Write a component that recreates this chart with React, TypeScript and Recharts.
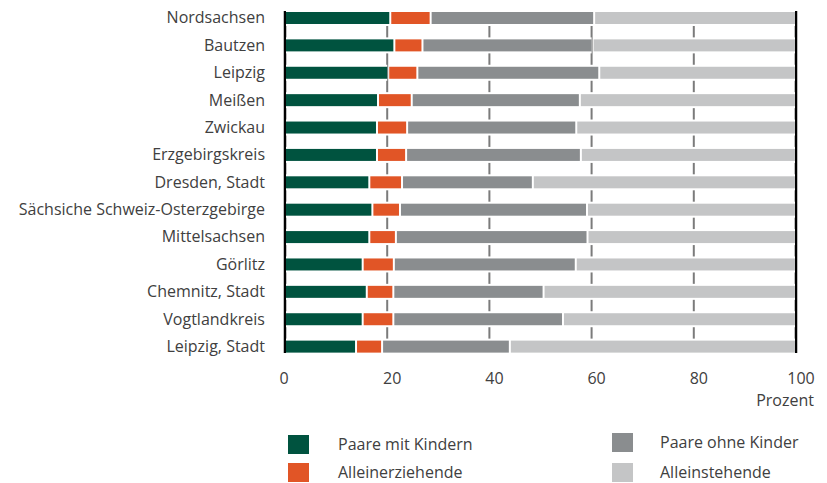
import { BarChart, Bar, XAxis, YAxis, CartesianGrid } from 'recharts';

const REGIONS = [
  'Nordsachsen',
  'Bautzen',
  'Leipzig',
  'Meißen',
  'Zwickau',
  'Erzgebirgskreis',
  'Dresden, Stadt',
  'Sächsiche Schweiz-Osterzgebirge',
  'Mittelsachsen',
  'Görlitz',
  'Chemnitz, Stadt',
  'Vogtlandkreis',
  'Leipzig, Stadt',
];

// Anteile in Prozent
const PAARE_MIT_KINDERN = [20.6, 21.4, 20.2, 18.2, 18.0, 18.0, 16.5, 17.1, 16.5, 15.2, 16.0, 15.2, 13.9];
const ALLEINERZIEHENDE = [7.9, 5.5, 5.7, 6.6, 5.9, 5.7, 6.4, 5.4, 5.2, 6.1, 5.2, 6.0, 5.1];
const PAARE_OHNE_KINDER = [32.0, 33.3, 35.6, 32.9, 33.1, 34.2, 25.6, 36.6, 37.5, 35.6, 29.4, 33.2, 25.0];
const ALLEINSTEHENDE = [39.5, 39.8, 38.5, 42.3, 43.0, 42.1, 51.5, 40.9, 40.8, 43.1, 49.4, 45.6, 56.0];

const X_TICKS = [0, 20, 40, 60, 80, 100];

const SERIES = [
  { key: 'mitKindern', name: 'Paare mit Kindern', color: '#00533f' },
  { key: 'alleinerziehend', name: 'Alleinerziehende', color: '#e15526' },
  { key: 'ohneKinder', name: 'Paare ohne Kinder', color: '#8a8d8f' },
  { key: 'alleinstehend', name: 'Alleinstehende', color: '#c4c5c6' },
];

const data = REGIONS.map((region, i) => ({
  region,
  mitKindern: PAARE_MIT_KINDERN[i],
  alleinerziehend: ALLEINERZIEHENDE[i],
  ohneKinder: PAARE_OHNE_KINDER[i],
  alleinstehend: ALLEINSTEHENDE[i],
}));

const FONT = '"Open Sans", sans-serif';
const TEXT = '#404040';

// segment with a white halo: hides the grid next to the bar and leaves a small gap between segments
function Segment(props: any) {
  const { x, y, width, height, fill } = props;
  if (!width || width <= 2) return null;
  return (
    <g>
      <rect x={x + 1} y={y} width={width - 2} height={height} fill="#ffffff" />
      <rect x={x + 1} y={y + 2} width={width - 2} height={height - 4} fill={fill} />
    </g>
  );
}

function XTick({ x, y, payload }: any) {
  return (
    <text x={x + (payload.value > 0 ? 5 : -1)} y={y} dy="0.71em" textAnchor="middle" fontSize={16} fill={TEXT} fontFamily={FONT}>
      {payload.value}
    </text>
  );
}

function LegendItem({ name, color, left, top, gap }: { name: string; color: string; left: number; top: number; gap: number }) {
  return (
    <div style={{ position: 'absolute', left, top, display: 'flex', alignItems: 'center' }}>
      <div style={{ width: 21, height: 19, background: color }} />
      <span style={{ marginLeft: gap, fontSize: 16, color: TEXT, fontFamily: FONT, whiteSpace: 'nowrap' }}>{name}</span>
    </div>
  );
}

export default function App() {
  return (
    <div style={{ position: 'absolute', left: 0, top: 0, width: 827, height: 483, background: '#fff' }}>
      <BarChart
        width={827}
        height={483}
        data={data}
        layout="vertical"
        barSize={16}
        margin={{ top: 4, right: 31, bottom: 73, left: 0 }}
      >
        <CartesianGrid horizontal={false} stroke="#7b7b7b" strokeWidth={2} y={12} height={340} />
        <CartesianGrid
          horizontal={false}
          stroke="#000000"
          strokeWidth={2.5}
          y={11}
          height={342}
          verticalCoordinatesGenerator={({ offset }: any) => [offset.left, offset.left + offset.width]}
        />
        <XAxis
          type="number"
          domain={[0, 100]}
          ticks={X_TICKS}
          axisLine={false}
          tickLine={false}
          tickSize={0}
          tickMargin={13}
          height={50}
          interval={0}
          tick={<XTick />}
          label={({ viewBox }: any) => (
            <text
              x={viewBox.x + viewBox.width + 18}
              y={viewBox.y + 46}
              textAnchor="end"
              fontSize={16}
              fill={TEXT}
              fontFamily={FONT}
            >
              Prozent
            </text>
          )}
        />
        <YAxis
          type="category"
          dataKey="region"
          width={285}
          axisLine={false}
          tickLine={false}
          tickSize={0}
          tickMargin={20}
          interval={0}
          tick={{ fontSize: 16, fill: TEXT, fontFamily: FONT }}
        />
        {SERIES.map((s) => (
          <Bar
            key={s.key}
            dataKey={s.key}
            name={s.name}
            stackId="a"
            fill={s.color}
            shape={<Segment />}
            isAnimationActive={false}
          />
        ))}
      </BarChart>
      <LegendItem name={SERIES[0].name} color={SERIES[0].color} left={288} top={433} gap={29} />
      <LegendItem name={SERIES[1].name} color={SERIES[1].color} left={288} top={461} gap={29} />
      <LegendItem name={SERIES[2].name} color={SERIES[2].color} left={612} top={431} gap={27} />
      <LegendItem name={SERIES[3].name} color={SERIES[3].color} left={612} top={461} gap={27} />
    </div>
  );
}
